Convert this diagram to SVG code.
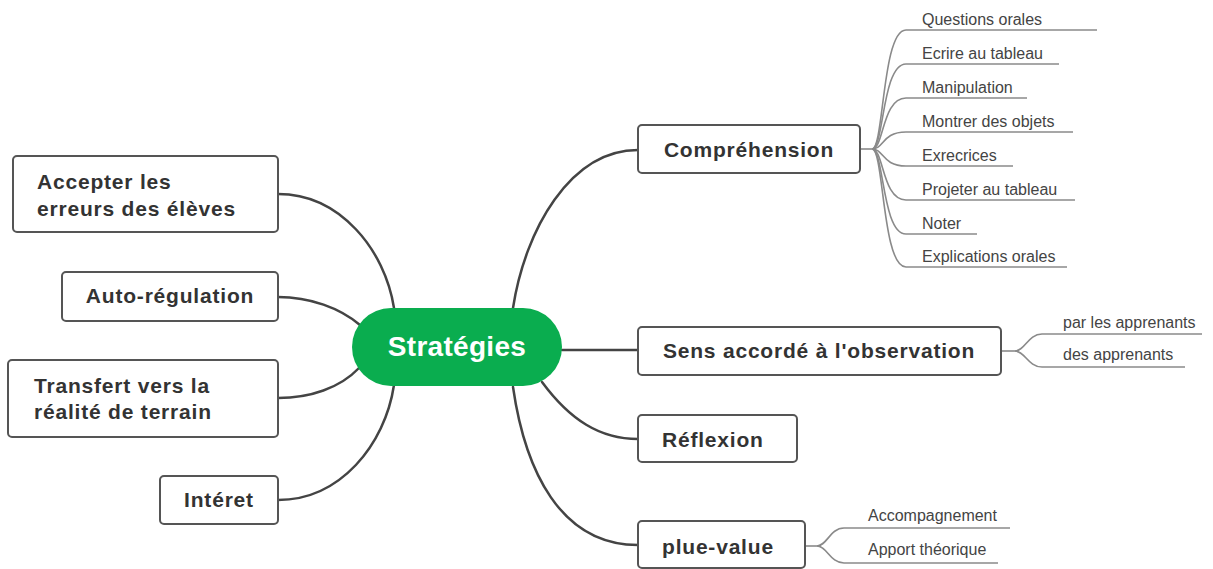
<svg xmlns="http://www.w3.org/2000/svg" width="1213" height="569" viewBox="0 0 1213 569">
<style>
.bg{fill:#ffffff}
.box{fill:#ffffff;stroke:#555555;stroke-width:2;}
.t{font-family:"Liberation Sans",Arial,sans-serif;font-weight:bold;font-size:21px;fill:#333333;letter-spacing:0.8px}
.center{fill:#0aad4f}
.ct{font-family:"Liberation Sans",Arial,sans-serif;font-weight:bold;font-size:28px;fill:#ffffff;letter-spacing:0.3px}
.conn{fill:none;stroke:#444444;stroke-width:2.5;stroke-linecap:round}
.leafl{fill:none;stroke:#8a8a8a;stroke-width:1.6}
.lt{font-family:"Liberation Sans",Arial,sans-serif;font-size:16px;fill:#444444}
</style>
<rect class="bg" x="0" y="0" width="1213" height="569"/>
<g id="connectors">
<path class="conn" d="M513,308 C525,230 570,150 638,150"/>
<path class="conn" d="M562,350 L638,350"/>
<path class="conn" d="M542,382 C570,420 600,439 638,439"/>
<path class="conn" d="M513,387 C525,470 560,545 638,545"/>
<path class="conn" d="M278,194 C340,194 385,250 394,308"/>
<path class="conn" d="M278,297 C310,297 340,308 360,325"/>
<path class="conn" d="M278,398 C310,398 340,388 359,368"/>
<path class="conn" d="M278,500 C340,500 385,445 394,385"/>
<path class="leafl" d="M860,149 L872,149"/>
<path class="leafl" d="M872,149 C884,149 882,30 906,30 H1097"/>
<path class="leafl" d="M872,149 C884,149 882,64 906,64 H1059"/>
<path class="leafl" d="M872,149 C884,149 882,98 906,98 H1027"/>
<path class="leafl" d="M872,149 C884,149 882,132 906,132 H1073"/>
<path class="leafl" d="M872,149 C884,149 882,166 906,166 H1013"/>
<path class="leafl" d="M872,149 C884,149 882,200 906,200 H1075"/>
<path class="leafl" d="M872,149 C884,149 882,234 906,234 H977"/>
<path class="leafl" d="M872,149 C884,149 882,267 906,267 H1067"/>
<path class="leafl" d="M1001,351 L1015,351"/>
<path class="leafl" d="M1015,351 C1025,351 1028,334 1042,334 H1202"/>
<path class="leafl" d="M1015,351 C1025,351 1028,367 1042,367 H1185"/>
<path class="leafl" d="M805,546 L817,546"/>
<path class="leafl" d="M817,546 C827,546 830,528 844,528 H1010"/>
<path class="leafl" d="M817,546 C827,546 830,563 844,563 H998"/>
</g>
<g id="node-strategies">
<rect class="center" x="352" y="308" width="210" height="78" rx="39"/>
<text class="ct" x="457" y="356" text-anchor="middle">Stratégies</text>
</g>
<g id="node-accepter">
<rect class="box" x="13" y="156" width="265" height="76" rx="4"/>
<text class="t" x="37" y="189">Accepter les</text>
<text class="t" x="37" y="216">erreurs des élèves</text>
</g>
<g id="node-auto">
<rect class="box" x="62" y="272" width="216" height="49" rx="4"/>
<text class="t" x="170" y="303" text-anchor="middle">Auto-régulation</text>
</g>
<g id="node-transfert">
<rect class="box" x="8" y="360" width="270" height="77" rx="4"/>
<text class="t" x="34" y="393">Transfert vers la</text>
<text class="t" x="34" y="419">réalité de terrain</text>
</g>
<g id="node-interet">
<rect class="box" x="160" y="476" width="118" height="48" rx="4"/>
<text class="t" x="219" y="507" text-anchor="middle">Intéret</text>
</g>
<g id="node-comprehension">
<rect class="box" x="638" y="125" width="222" height="48" rx="4"/>
<text class="t" x="749" y="157" text-anchor="middle">Compréhension</text>
</g>
<g id="leaves-comprehension">
<text class="lt" x="922" y="25">Questions orales</text>
<text class="lt" x="922" y="59">Ecrire au tableau</text>
<text class="lt" x="922" y="93">Manipulation</text>
<text class="lt" x="922" y="127">Montrer des objets</text>
<text class="lt" x="922" y="161">Exrecrices</text>
<text class="lt" x="922" y="195">Projeter au tableau</text>
<text class="lt" x="922" y="229">Noter</text>
<text class="lt" x="922" y="262">Explications orales</text>
</g>
<g id="node-sens">
<rect class="box" x="638" y="327" width="363" height="48" rx="4"/>
<text class="t" x="819" y="358" text-anchor="middle">Sens accordé à l'observation</text>
</g>
<g id="leaves-sens">
<text class="lt" x="1063" y="328">par les apprenants</text>
<text class="lt" x="1063" y="360">des apprenants</text>
</g>
<g id="node-reflexion">
<rect class="box" x="638" y="415" width="159" height="47" rx="4"/>
<text class="t" x="662" y="447">Réflexion</text>
</g>
<g id="node-plue-value">
<rect class="box" x="638" y="521" width="167" height="47" rx="4"/>
<text class="t" x="662" y="554">plue-value</text>
</g>
<g id="leaves-plue-value">
<text class="lt" x="868" y="521">Accompagnement</text>
<text class="lt" x="868" y="555">Apport théorique</text>
</g>
</svg>
